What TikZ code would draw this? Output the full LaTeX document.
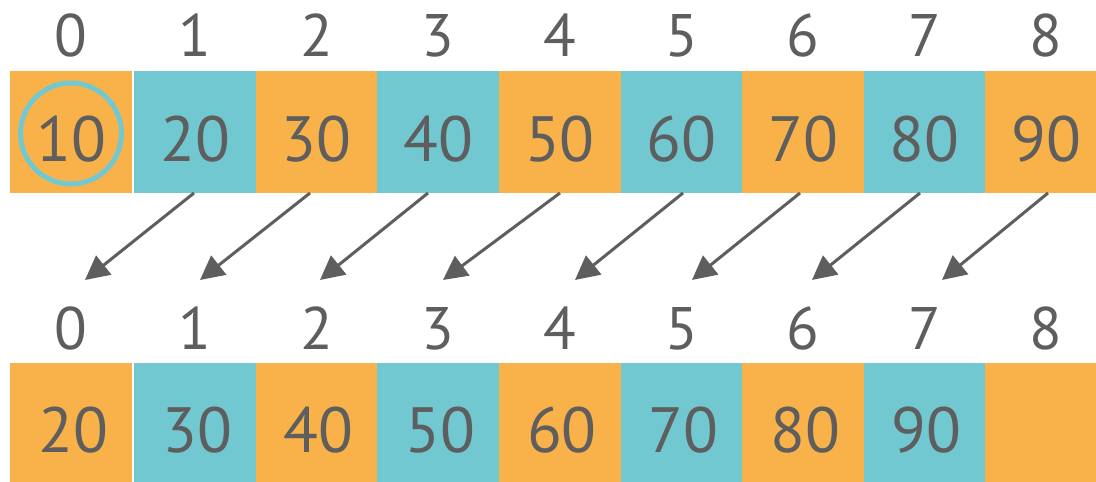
\documentclass[tikz,border=0pt]{standalone}
\usepackage{fontspec}
\setmainfont{PT Sans}
\usetikzlibrary{arrows.meta}
\definecolor{org}{HTML}{F9B24A}
\definecolor{tea}{HTML}{72C8D0}
\definecolor{txt}{HTML}{5E5E5E}
\tikzset{
  cellbox/.style={draw=none,inner sep=0pt,minimum height=124pt,anchor=south west},
  idx/.style={text=txt,font=\fontsize{60}{60}\selectfont,anchor=base,inner sep=0pt},
  val/.style={text=txt,font=\fontsize{64}{64}\selectfont,anchor=base,inner sep=0pt},
  arr/.style={draw=txt,line width=3pt,-{Triangle[length=24pt,width=24pt]}},
}
\begin{document}
\begin{tikzpicture}[x=1pt,y=1pt]
\fill[white] (0,0) rectangle (1096,482);
% top row
\node[cellbox,fill=org,minimum width=122pt,minimum height=122pt] (t0) at (10,289) {};
\node[cellbox,fill=org,minimum width=122pt] (b0) at (10,-5) {};
\foreach \i [evaluate=\i as \xx using {134+121.6*(\i-1)}] in {1,...,8}{
  \pgfmathtruncatemacro{\odd}{mod(\i,2)}
  \ifnum\odd=1
    \node[cellbox,fill=tea,minimum width=121.8pt,minimum height=122pt] (t\i) at (\xx,289) {};
    \node[cellbox,fill=tea,minimum width=121.8pt] (b\i) at (\xx,-5) {};
  \else
    \node[cellbox,fill=org,minimum width=121.8pt,minimum height=122pt] (t\i) at (\xx,289) {};
    \node[cellbox,fill=org,minimum width=121.8pt] (b\i) at (\xx,-5) {};
  \fi
}
% index labels
\foreach \i in {0,...,8}{
  \node[idx] (ti\i) at ([yshift=14pt]t\i.north) {\i};
  \node[idx] (bi\i) at ([yshift=13pt]b\i.north) {\i};
}
% values
\foreach \i/\v in {0/10,1/20,2/30,3/40,4/50,5/60,6/70,7/80,8/90}{
  \node[val] (tv\i) at ([yshift=31pt]t\i.south) {\v};
}
\foreach \i/\v in {0/20,1/30,2/40,3/50,4/60,5/70,6/80,7/90}{
  \node[val] (bv\i) at ([yshift=34pt,xshift=2pt]b\i.south) {\v};
}
% highlight circle
\node[draw=tea,line width=5pt,circle,minimum size=101pt,inner sep=0pt] (hl) at (71,348.5) {};
% arrows
\foreach \i/\sx/\ex [count=\k from 0] in {1/194/85,2/310/200,3/428/320,4/560/443,5/683/575,6/800/692,7/920/812,8/1048/942}{
  \coordinate (s\i) at (\sx,289);
  \coordinate (e\k) at (\ex,202);
  \draw[arr] (s\i) -- (e\k);
}
\pgfresetboundingbox
\useasboundingbox (0,0) rectangle (1096,482);
\end{tikzpicture}
\end{document}
